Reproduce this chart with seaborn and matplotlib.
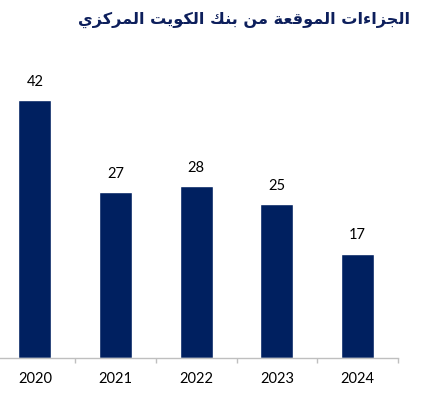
import unicodedata
import matplotlib
matplotlib.use("Agg")
import matplotlib.pyplot as plt
import seaborn as sns
import pandas as pd

years = ["2020", "2021", "2022", "2023", "2024"]
penalties = [42, 27, 28, 25, 17]
title = "الجزاءات الموقعة من بنك الكويت المركزي"

navy = "#002060"

# matplotlib has no Arabic shaping, so pick presentation forms by hand
RIGHT_ONLY = set("اآأإدذرزوؤة")
NON_JOIN = set("ء")


def form(ch, name):
    try:
        return unicodedata.lookup(unicodedata.name(ch) + " " + name + " FORM")
    except KeyError:
        return ch


def is_ar(ch):
    return "\u0621" <= ch <= "\u064a"


def shape(text):
    out = []
    for i, ch in enumerate(text):
        if not is_ar(ch):
            out.append(ch)
            continue
        prev = text[i - 1] if i > 0 else " "
        nxt = text[i + 1] if i + 1 < len(text) else " "
        join_prev = is_ar(prev) and prev not in RIGHT_ONLY and prev not in NON_JOIN and ch not in NON_JOIN
        join_next = (ch not in RIGHT_ONLY and ch not in NON_JOIN
                     and is_ar(nxt) and nxt not in NON_JOIN)
        if join_prev and join_next:
            out.append(form(ch, "MEDIAL"))
        elif join_prev:
            out.append(form(ch, "FINAL"))
        elif join_next:
            out.append(form(ch, "INITIAL"))
        else:
            out.append(form(ch, "ISOLATED"))
    return "".join(out)[::-1]


df = pd.DataFrame({"year": years, "count": penalties})

sns.set_style("white")
plt.rcParams["font.family"] = ["Lato", "DejaVu Sans"]

fig = plt.figure(figsize=(4.21, 3.96), dpi=100)
ax = fig.add_axes([-5.5 / 421, 38 / 396, 403.5 / 421, 295 / 396])

sns.barplot(data=df, x="year", y="count", color=navy, saturation=1,
            width=0.41, ax=ax)

ax.set_xlim(-0.5, 4.5)
ax.set_ylim(0, 48)
ax.set_xlabel("")
ax.set_ylabel("")
ax.set_yticks([])
for s in ["top", "right", "left"]:
    ax.spines[s].set_visible(False)
ax.spines["bottom"].set_color("#bfbfbf")
ax.spines["bottom"].set_linewidth(1)

ax.set_xticks(range(len(years)))
ax.set_xticklabels(years, fontsize=10.5, color="black")
ax.tick_params(axis="x", which="major", length=0, pad=10, bottom=True)
ax.set_xticks([i - 0.5 for i in range(len(years) + 1)], minor=True)
ax.tick_params(axis="x", which="minor", length=3.5, color="#bfbfbf",
               width=1, bottom=True)

for i, v in enumerate(penalties):
    ax.annotate(str(v), (i, v), xytext=(0, 8), textcoords="offset points",
                ha="center", va="bottom", fontsize=10.5, color="black")

fig.text(410 / 421, 1 - 20 / 396, shape(title), ha="right", va="center",
         fontsize=11.6, fontweight="bold", color="#0d1f5c",
         family=["DejaVu Sans"])

fig.savefig("out.png", dpi=100)
